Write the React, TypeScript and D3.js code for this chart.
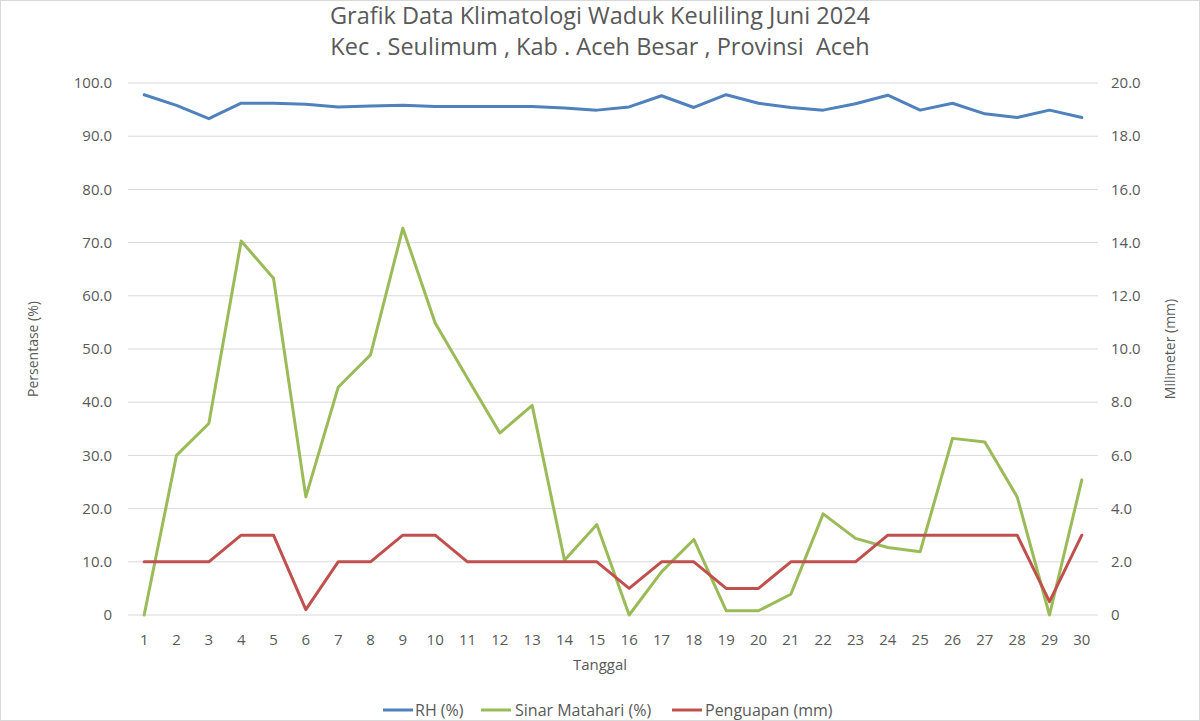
import React from "react";
import * as d3 from "d3";

const days = d3.range(1, 31).map(String);
const rh = [97.8, 95.8, 93.3, 96.2, 96.2, 96.0, 95.5, 95.7, 95.8, 95.6, 95.6, 95.6, 95.6, 95.3, 94.9, 95.5, 97.6, 95.4, 97.8, 96.2, 95.4, 94.9, 96.1, 97.7, 94.9, 96.2, 94.2, 93.5, 94.9, 93.5];
const sinar = [0, 30.0, 36.0, 70.3, 63.3, 22.2, 42.8, 48.9, 72.7, 54.9, 44.5, 34.2, 39.4, 10.3, 17.0, 0, 8.1, 14.2, 0.8, 0.8, 3.9, 19.0, 14.4, 12.7, 11.9, 33.2, 32.5, 22.2, 0, 25.4];
const penguapan = [2, 2, 2, 3, 3, 0.2, 2, 2, 3, 3, 2, 2, 2, 2, 2, 1, 2, 2, 1, 1, 2, 2, 2, 3, 3, 3, 3, 3, 0.5, 3];
const leftTicks = [0, 10, 20, 30, 40, 50, 60, 70, 80, 90, 100];
const rightTicks = [0, 2, 4, 6, 8, 10, 12, 14, 16, 18, 20];
const titleLines = ["Grafik Data Klimatologi Waduk Keuliling Juni 2024", "Kec . Seulimum , Kab . Aceh Besar , Provinsi\u00a0 Aceh"];
const series = [
  { name: "RH (%)", color: "#4F81BD", data: rh, axis: "left" },
  { name: "Sinar Matahari (%)", color: "#9BBB59", data: sinar, axis: "left" },
  { name: "Penguapan (mm)", color: "#C0504D", data: penguapan, axis: "right" },
];

const W = 1200, H = 721;
const font = "Open Sans, Noto Sans, sans-serif";
const textColor = "#595959";

export default function App() {
  const left = 128, right = 1098, top = 83, bottom = 615;
  const x = d3.scaleBand().domain(days).range([left, right]);
  const yL = d3.scaleLinear().domain([0, 100]).range([bottom, top]);
  const yR = d3.scaleLinear().domain([0, 20]).range([bottom, top]);
  const cx = (d: string) => (x(d) as number) + x.bandwidth() / 2;

  const legendItems = [
    { x: 383, tx: 415 },
    { x: 481, tx: 515 },
    { x: 672, tx: 705 },
  ];

  return (
    <svg width={W} height={H} style={{ position: "absolute", left: 0, top: 0 }} fontFamily={font}>
      <rect x={0.5} y={0.5} width={W - 1} height={H - 1} fill="#fff" stroke="#d9d9d9" />
      {titleLines.map((t, i) => (
        <text key={i} x={600} y={16 + i * 31} dy="0.35em" textAnchor="middle" fontSize={23.5} fill={textColor}>{t}</text>
      ))}
      {leftTicks.map((t) => (
        <line key={"g" + t} x1={left} x2={right} y1={yL(t)} y2={yL(t)} stroke="#d9d9d9" strokeWidth={1} />
      ))}
      {leftTicks.map((t) => (
        <text key={"l" + t} x={112} y={yL(t)} dy="0.35em" textAnchor="end" fontSize={15} fill={textColor}>{t === 0 ? "0" : t.toFixed(1)}</text>
      ))}
      {rightTicks.map((t) => (
        <text key={"r" + t} x={1111} y={yR(t)} dy="0.35em" textAnchor="start" fontSize={15} fill={textColor}>{t === 0 ? "0" : t.toFixed(1)}</text>
      ))}
      {days.map((d) => (
        <text key={"x" + d} x={cx(d)} y={640} dy="0.35em" textAnchor="middle" fontSize={15} fill={textColor}>{d}</text>
      ))}
      <text x={600} y={665} dy="0.35em" textAnchor="middle" fontSize={15} fill={textColor}>Tanggal</text>
      <text transform={`translate(33,${(top + bottom) / 2}) rotate(-90)`} dy="0.35em" textAnchor="middle" fontSize={14} fill={textColor}>Persentase (%)</text>
      <text transform={`translate(1170,${(top + bottom) / 2}) rotate(-90)`} dy="0.35em" textAnchor="middle" fontSize={14} fill={textColor}>Milimeter (mm)</text>
      {series.map((s) => {
        const y = s.axis === "left" ? yL : yR;
        const line = d3.line<number>().x((_, i) => cx(days[i])).y((v) => y(v));
        return <path key={s.name} d={line(s.data) as string} fill="none" stroke={s.color} strokeWidth={3} strokeLinejoin="round" strokeLinecap="round" />;
      })}
      {series.map((s, i) => (
        <g key={"lg" + i}>
          <line x1={legendItems[i].x} x2={legendItems[i].x + 30} y1={710} y2={710} stroke={s.color} strokeWidth={3} />
          <text x={legendItems[i].tx} y={710} dy="0.35em" fontSize={16} fill={textColor}>{s.name}</text>
        </g>
      ))}
    </svg>
  );
}
